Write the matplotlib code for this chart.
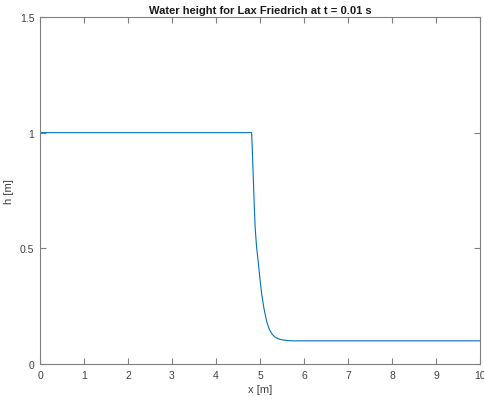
import matplotlib.pyplot as plt

plt.rcParams['font.family'] = ['Liberation Sans', 'DejaVu Sans']

# water height profile read at t = 0.01 s
x = [0.0, 4.81, 4.83, 4.85, 4.87, 4.89, 4.92, 4.96, 5.00, 5.04, 5.09,
     5.15, 5.21, 5.27, 5.34, 5.42, 5.52, 5.65, 5.80, 10.0]
h = [1.0, 1.0, 0.90, 0.79, 0.68, 0.59, 0.51, 0.44, 0.365, 0.30, 0.24,
     0.185, 0.15, 0.13, 0.116, 0.108, 0.104, 0.101, 0.1, 0.1]

xticks = list(range(0, 11))
yticks = [0, 0.5, 1, 1.5]
ytick_labels = ['0', '0.5', '1', '1.5']

fig = plt.figure(figsize=(4.85, 4.06), dpi=100)
ax = fig.add_axes([0.0825, 0.101, 0.9072, 0.8547])

ax.plot(x, h, color='#0072BD', linewidth=0.8)

ax.set_xlim(0, 10)
ax.set_ylim(0, 1.5)
ax.set_xticks(xticks)
ax.set_yticks(yticks)
ax.set_yticklabels(ytick_labels)

grey = '#404040'
for s in ax.spines.values():
    s.set_color('#808080')
    s.set_linewidth(0.8)
ax.tick_params(direction='in', length=4, width=0.8, colors='#808080',
               labelcolor=grey, labelsize=7.5, top=True, right=True, pad=4)

ax.set_xlabel('x [m]', fontsize=8, color=grey, labelpad=3)
ax.set_ylabel('h [m]', fontsize=8, color=grey)
ax.yaxis.set_label_coords(-0.058, 0.5)
ax.set_title('Water height for Lax Friedrich at t = 0.01 s', fontsize=8,
             fontweight='bold', color='#1a1a1a', pad=3)

fig.savefig('out.png', dpi=100)
